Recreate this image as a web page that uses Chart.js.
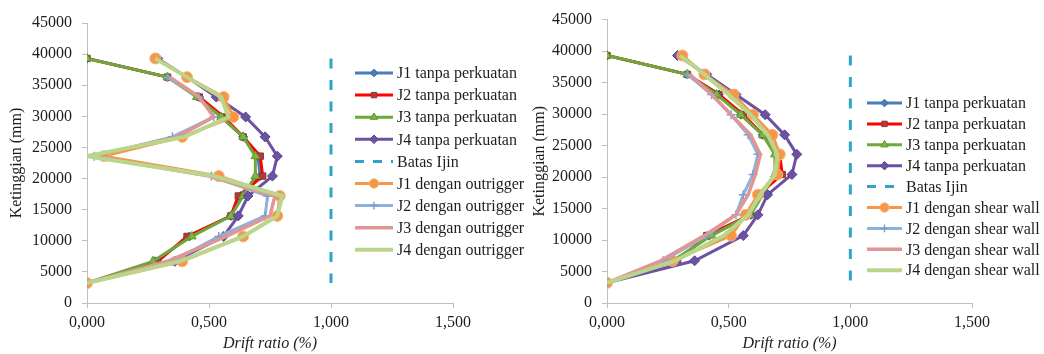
<!DOCTYPE html>
<html>
<head>
<meta charset="utf-8">
<title>Drift ratio</title>
<script src="https://cdn.jsdelivr.net/npm/chart.js@4.4.1/dist/chart.umd.min.js"></script>
<style>
  body { margin: 0; background: #fff; }
  #wrap { position: relative; width: 1044px; height: 354px; overflow: hidden; }
  #chartLeft { position: absolute; left: 0; top: 0; }
  #chartRight { position: absolute; left: 520px; top: 0; }
</style>
</head>
<body>
<div id="wrap">
  <canvas id="chartLeft" width="530" height="354"></canvas>
  <canvas id="chartRight" width="524" height="354"></canvas>
</div>
<script>
// storey heights (mm)
const levels = [3200, 6700, 10700, 14000, 17200, 20400, 23600, 26700, 29900, 33100, 36300, 39300];

// drift ratio (%) without strengthening, same in both charts
const j1Tanpa = [0, 0.28, 0.42, 0.59, 0.63, 0.71, 0.70, 0.64, 0.55, 0.46, 0.33, 0];
const j2Tanpa = [0, 0.29, 0.41, 0.59, 0.62, 0.72, 0.71, 0.64, 0.56, 0.46, 0.33, 0];
const j3Tanpa = [0, 0.27, 0.43, 0.59, 0.64, 0.69, 0.69, 0.64, 0.55, 0.45, 0.33, 0];
const j4Tanpa = [0, 0.36, 0.56, 0.62, 0.66, 0.76, 0.78, 0.73, 0.65, 0.53, 0.41, 0.29];

// with outrigger (left chart)
const j1Outrigger = [0, 0.39, 0.64, 0.78, 0.79, 0.54, 0.07, 0.39, 0.60, 0.56, 0.41, 0.28];
const j2Outrigger = [0, 0.35, 0.54, 0.73, 0.74, 0.51, 0.03, 0.35, 0.52, 0.46, 0.33, null];
const j3Outrigger = [0, 0.33, 0.57, 0.75, 0.77, 0.50, 0.02, 0.37, 0.52, 0.46, 0.34, null];
const j4Outrigger = [0, 0.38, 0.64, 0.78, 0.80, 0.52, 0.00, 0.40, 0.58, 0.55, 0.41, 0.28];

// with shear wall (right chart)
const j1ShearWall = [0, 0.27, 0.51, 0.57, 0.62, 0.70, 0.71, 0.68, 0.60, 0.52, 0.40, 0.31];
const j2ShearWall = [0, 0.23, 0.41, 0.53, 0.56, 0.60, 0.62, 0.58, 0.51, 0.43, 0.33, null];
const j3ShearWall = [0, 0.22, 0.40, 0.53, 0.58, 0.61, 0.63, 0.59, 0.51, 0.43, 0.34, null];
const j4ShearWall = [0, 0.28, 0.48, 0.58, 0.63, 0.69, 0.70, 0.66, 0.59, 0.50, 0.40, 0.30];

// allowable limit line
const batasX = [1.0, 1.0];
const batasY = [39300, 3200];

const xTickLabels = ['0,000', '0,500', '1,000', '1,500'];
const yTickLabels = ['0', '5000', '10000', '15000', '20000', '25000', '30000', '35000', '40000', '45000'];

const FONT = 'Liberation Serif, Times New Roman, serif';
const AXIS_GREY = '#bfbfbf';
const TEXT = '#1e1e1e';

function series(label, vals, color, extra) {
    return Object.assign({
        label: label,
        data: levels.map((h, i) => ({ x: vals[i], y: h })).filter(p => p.x !== null),
        showLine: true,
        borderColor: color,
        backgroundColor: color,
        borderWidth: 3,
        pointRadius: 0,
        pointHoverRadius: 0,
        pointBorderWidth: 1,
        tension: 0
    }, extra);
}

function buildDatasets(kind, v1, v2, v3, v4) {
    const list = [
        series('J1 tanpa perkuatan', j1Tanpa, '#4a7ebb', { pointStyle: 'rectRot', pointRadius: 4.5, pointBackgroundColor: '#4a7ebb', pointBorderColor: '#3a6aa6' }),
        series('J2 tanpa perkuatan', j2Tanpa, '#ff0000', { pointStyle: 'rect', pointRadius: 4.5, pointBackgroundColor: '#b03c3a', pointBorderColor: '#9a302e' }),
        series('J3 tanpa perkuatan', j3Tanpa, '#6ea83a', { pointStyle: 'triangle', pointRadius: 5, pointBackgroundColor: '#7cb742', pointBorderColor: '#5e9a2e' }),
        series('J4 tanpa perkuatan', j4Tanpa, '#6c52a3', { pointStyle: 'rectRot', pointRadius: 5, pointBackgroundColor: '#6c52a3', pointBorderColor: '#5a4290' }),
        {
            label: 'Batas Ijin',
            data: batasX.map((x, i) => ({ x: x, y: batasY[i] })),
            showLine: true,
            borderColor: '#31a3c8',
            borderWidth: 3,
            borderDash: [10, 11.5],
            pointRadius: 0,
            pointHoverRadius: 0
        },
        series('J1 dengan ' + kind, v1, '#f79646', { pointStyle: 'circle', pointRadius: 5.5, pointBackgroundColor: '#f79646', pointBorderColor: '#f5b57a' }),
        series('J2 dengan ' + kind, v2, '#8fb2dd', { pointStyle: 'cross', pointRadius: 4.5, pointBackgroundColor: '#7aa0d0', pointBorderColor: '#7aa0d0', pointBorderWidth: 1.5 }),
        series('J3 dengan ' + kind, v3, '#df9694', { borderWidth: 3.5 }),
        series('J4 dengan ' + kind, v4, '#b9d68b', { borderWidth: 4 })
    ];
    // later series on top, like the spreadsheet
    list.forEach((ds, i) => { ds.order = list.length - i; });
    return list;
}

// legend drawn over the plot area, line + marker + label
const lineLegend = {
    id: 'lineLegend',
    afterDraw(chart, args, opts) {
        const ctx = chart.ctx;
        ctx.save();
        chart.data.datasets.forEach((ds, i) => {
            const y = opts.top + i * opts.gap;
            ctx.strokeStyle = ds.borderColor;
            ctx.lineWidth = ds.borderWidth;
            ctx.setLineDash(ds.borderDash ? [9, 9] : []);
            ctx.beginPath();
            ctx.moveTo(opts.left, y);
            ctx.lineTo(opts.left + opts.lineLen, y);
            ctx.stroke();
            ctx.setLineDash([]);
            if (ds.pointRadius > 0) {
                ctx.fillStyle = ds.pointBackgroundColor;
                ctx.strokeStyle = ds.pointBorderColor;
                ctx.lineWidth = ds.pointBorderWidth || 1;
                Chart.helpers.drawPoint(ctx, {
                    pointStyle: ds.pointStyle,
                    radius: ds.pointRadius * 0.85,
                    rotation: 0,
                    borderWidth: ds.pointBorderWidth || 1
                }, opts.left + opts.lineLen / 2, y);
            }
            ctx.fillStyle = TEXT;
            ctx.font = '16px ' + FONT;
            ctx.textAlign = 'left';
            ctx.textBaseline = 'middle';
            ctx.fillText(ds.label, opts.left + opts.lineLen + 4, y + 1);
        });
        ctx.restore();
    }
};

function makeChart(id, datasets, pad, legendOpts, titlePad) {
    const ctx = document.getElementById(id).getContext('2d');
    return new Chart(ctx, {
        type: 'scatter',
        data: { datasets: datasets },
        options: {
            responsive: false,
            animation: false,
            devicePixelRatio: 1,
            layout: { padding: pad },
            plugins: {
                legend: { display: false },
                tooltip: { enabled: false },
                lineLegend: legendOpts
            },
            scales: {
                x: {
                    type: 'linear',
                    min: 0,
                    max: 1.5,
                    afterFit: s => { s.height = 50; },
                    ticks: {
                        stepSize: 0.5,
                        padding: 5,
                        color: TEXT,
                        font: { family: FONT, size: 16 },
                        callback: v => xTickLabels[Math.round(v / 0.5)]
                    },
                    grid: { display: true, drawOnChartArea: false, drawTicks: true, tickLength: 5, color: AXIS_GREY },
                    border: { display: true, color: AXIS_GREY, width: 1 },
                    title: {
                        display: true,
                        text: 'Drift ratio (%)',
                        color: TEXT,
                        font: { family: FONT, size: 16, style: 'italic' },
                        padding: { top: 0, bottom: 0 }
                    }
                },
                y: {
                    type: 'linear',
                    min: 0,
                    max: 45000,
                    afterFit: s => { s.width = 87; },
                    ticks: {
                        stepSize: 5000,
                        padding: 10,
                        color: TEXT,
                        font: { family: FONT, size: 16 },
                        callback: v => yTickLabels[Math.round(v / 5000)]
                    },
                    grid: { display: true, drawOnChartArea: false, drawTicks: true, tickLength: 5, color: AXIS_GREY },
                    border: { display: true, color: AXIS_GREY, width: 1 },
                    title: {
                        display: true,
                        text: 'Ketinggian (mm)',
                        color: TEXT,
                        font: { family: FONT, size: 16 },
                        padding: { top: titlePad, bottom: 0 }
                    }
                }
            }
        },
        plugins: [lineLegend]
    });
}

makeChart('chartLeft',
    buildDatasets('outrigger', j1Outrigger, j2Outrigger, j3Outrigger, j4Outrigger),
    { top: 23, right: 77, bottom: 1, left: 0 },
    { left: 355, top: 73, gap: 22.1, lineLen: 38 },
    7);

makeChart('chartRight',
    buildDatasets('shear wall', j1ShearWall, j2ShearWall, j3ShearWall, j4ShearWall),
    { top: 15, right: 72, bottom: 1, left: 0 },
    { left: 347, top: 103, gap: 20.9, lineLen: 35 },
    10);
</script>
</body>
</html>
